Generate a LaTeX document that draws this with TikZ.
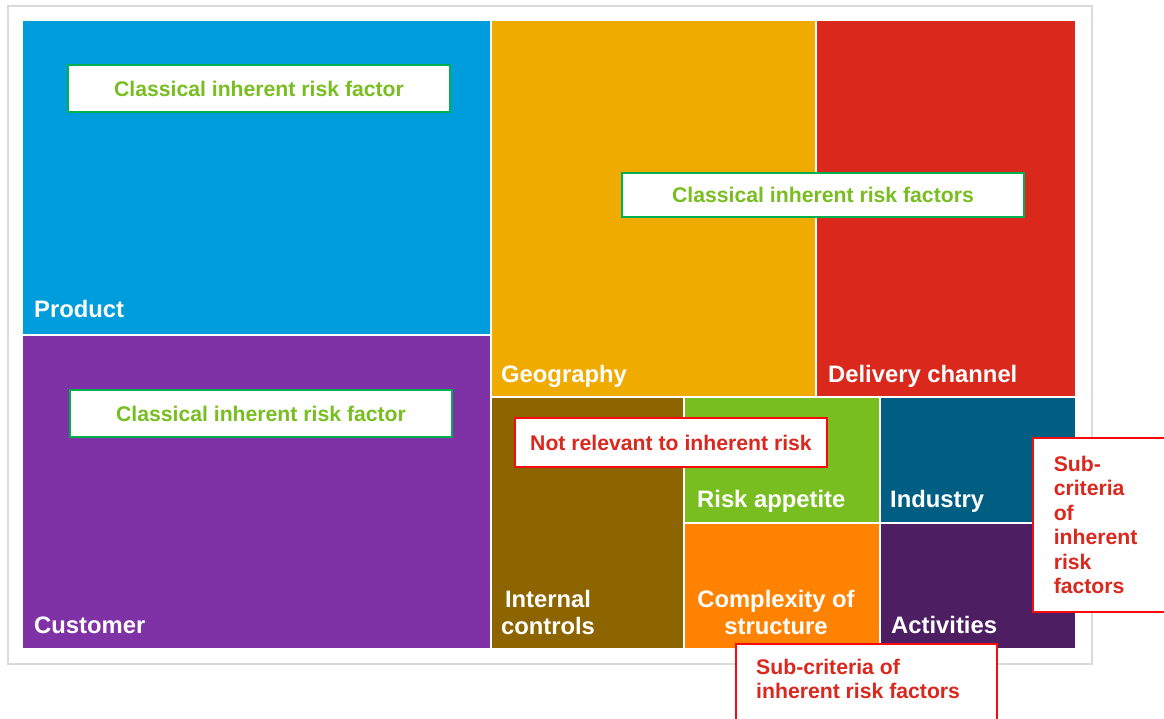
\documentclass[tikz,border=0pt]{standalone}
\usepackage{fontspec}
\setmainfont{Liberation Sans}
\definecolor{cProd}{RGB}{0,157,220}
\definecolor{cCust}{RGB}{127,50,166}
\definecolor{cGeo}{RGB}{240,171,0}
\definecolor{cDel}{RGB}{218,41,28}
\definecolor{cInt}{RGB}{140,100,0}
\definecolor{cRisk}{RGB}{120,190,32}
\definecolor{cCompl}{RGB}{255,130,0}
\definecolor{cInd}{RGB}{0,94,130}
\definecolor{cAct}{RGB}{77,30,98}
\definecolor{frameGray}{RGB}{218,218,218}
\definecolor{gBorder}{RGB}{0,176,80}
\definecolor{gText}{RGB}{120,190,32}
\definecolor{rBorder}{RGB}{250,10,10}
\definecolor{rText}{RGB}{218,40,30}
\tikzset{
  lab/.style={font=\fontsize{23.8}{27}\selectfont\bfseries, text=white, inner sep=0pt},
  annfont/.style={font=\fontsize{21.2}{24.5}\selectfont\bfseries},
  greenbox/.style={annfont, draw=gBorder, line width=1.5pt, fill=white, text=gText, inner sep=0pt},
  redbox/.style={annfont, draw=rBorder, line width=1.5pt, fill=white, text=rText, inner sep=0pt},
}
\begin{document}
\begin{tikzpicture}[x=1pt,y=-1pt]
\clip (0,0) rectangle (1164,719);
\fill[white] (0,0) rectangle (1164,719);
\draw[frameGray, line width=2pt] (8,6) rectangle (1092,664);
% treemap cells
\fill[cProd]  (23,21)   rectangle (490,334);
\fill[cCust]  (23,336)  rectangle (490,648);
\fill[cGeo]   (492,21)  rectangle (815,396);
\fill[cDel]   (817,21)  rectangle (1075,396);
\fill[cInt]   (492,398) rectangle (683,648);
\fill[cRisk]  (685,398) rectangle (879,522);
\fill[cCompl] (685,524) rectangle (879,648);
\fill[cInd]   (881,398) rectangle (1075,522);
\fill[cAct]   (881,524) rectangle (1075,648);
% cell labels
\node[lab, anchor=base west] (product) at (34,317) {Product};
\node[lab, anchor=base west] (customer) at (34,633) {Customer};
\node[lab, anchor=base west] (geography) at (501,382) {Geography};
\node[lab, anchor=base west] (delivery) at (828,382) {Delivery channel};
\node[lab, anchor=base west] (riskapp) at (697,507) {Risk appetite};
\node[lab, anchor=base west] (industry) at (890,507) {Industry};
\node[lab, anchor=base west] (activities) at (891,633) {Activities};
\node[lab, align=center] (internal) at (548,612) {Internal\\controls};
\node[lab, align=center] (complexity) at (776,612) {Complexity of\\structure};
% annotation boxes
\node[greenbox, minimum width=382pt, minimum height=47pt] (cl1) at (259,88.5) {Classical inherent risk factor};
\node[greenbox, minimum width=382pt, minimum height=47pt] (cl2) at (261,413.5) {Classical inherent risk factor};
\node[greenbox, minimum width=402pt, minimum height=44pt] (cl3) at (823,195) {Classical inherent risk factors};
\node[redbox, minimum width=312pt, minimum height=49pt] (notrel) at (671,442.5) {Not relevant to inherent risk};
\node[redbox, anchor=north west, text width=100pt, inner xsep=21pt, minimum height=174pt, align=left] (subright) at (1032,437) {Sub-\\criteria\\of\\inherent\\risk\\factors};
\draw[rBorder, line width=1.5pt, fill=white] (736,644) rectangle (997,735);
\node[annfont, text=rText, anchor=base west, align=left, inner sep=0pt] (subbottom) at (756,698.5) {Sub-criteria of\\inherent risk factors};
\end{tikzpicture}
\end{document}
